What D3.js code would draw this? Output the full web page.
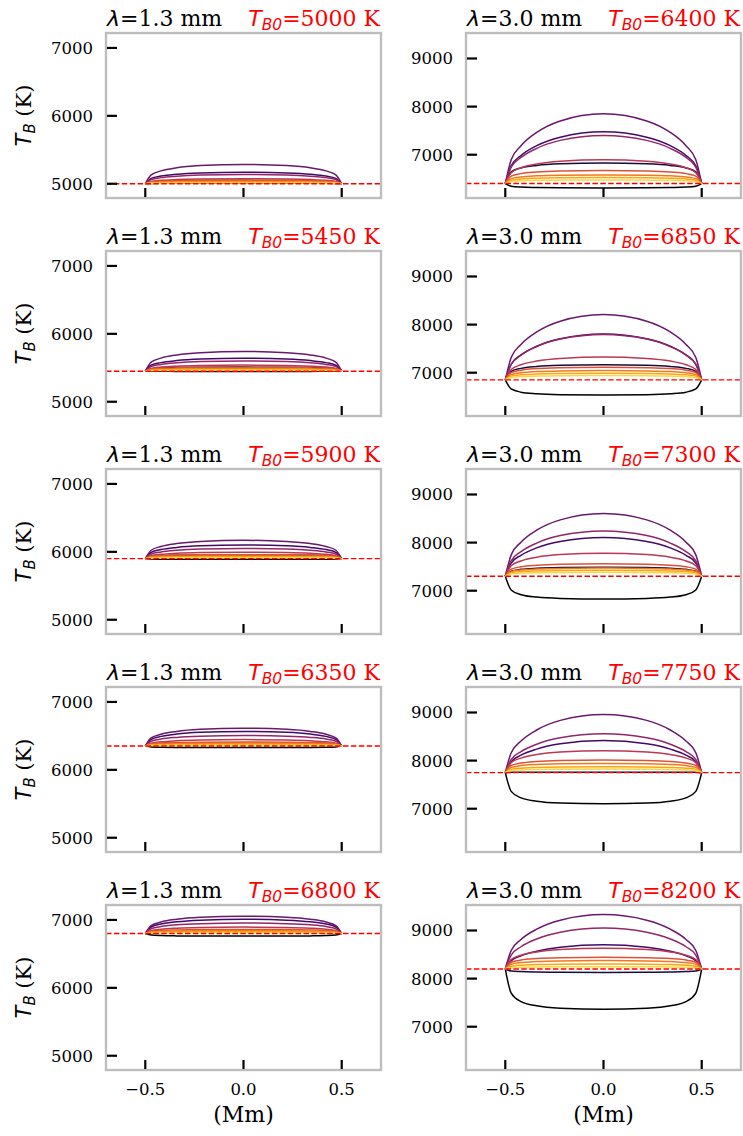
<!DOCTYPE html>
<html>
<head>
<meta charset="utf-8">
<script src="https://cdn.jsdelivr.net/npm/d3@7"></script>
<style>
body{margin:0;background:#fff}
text{font-family:"DejaVu Serif",serif}
.math{font-family:"DejaVu Sans",sans-serif;font-style:italic}
</style>
</head>
<body>
<script>
// half profile positions (Mm); each curve mirrors around 0 and meets T_B0 at +-0.5
var halfX=[0,0.22,0.34,0.42,0.47]
var edgeX=0.5
var tb0Short=[5000,5450,5900,6350,6800]
var tb0Long=[6400,6850,7300,7750,8200]
var yTicksShort=[5000,6000,7000]
var yTicksLong=[7000,8000,9000]
var xTicks=[-0.5,0,0.5]

// T_B - T_B0 (K) at halfX, one row per curve (curve i -> inferno i/10)
// lambda = 1.3 mm
var dT13_5000=[[8,8,7,6,5],[50,48,44,38,29],[170,159,140,113,78],[285,267,235,189,130],[135,127,111,90,62],
  [75,70,62,50,34],[50,48,44,38,29],[35,34,31,27,20],[22,21,20,17,13],[12,12,11,9,7]]
var dT13_5450=[[-3,-3,-3,-2,-2],[60,58,53,46,34],[190,178,156,126,87],[290,272,239,192,133],[150,141,123,99,69],
  [90,84,74,60,41],[55,53,49,42,31],[38,37,34,29,22],[25,24,22,19,14],[12,12,11,9,7]]
var dT13_5900=[[-10,-10,-9,-8,-6],[55,53,49,42,31],[200,188,165,133,91],[270,253,222,179,123],[150,141,123,99,69],
  [95,89,78,63,43],[58,56,52,44,33],[40,39,36,31,23],[26,25,23,20,15],[13,13,12,10,7]]
var dT13_6350=[[-22,-21,-20,-18,-13],[40,39,36,31,23],[215,202,177,143,98],[262,246,216,174,120],[155,145,128,103,71],
  [95,89,78,63,43],[60,58,53,46,34],[40,39,36,31,23],[26,25,23,20,15],[13,13,12,10,7]]
var dT13_6800=[[-38,-37,-35,-31,-23],[20,19,18,15,11],[210,197,173,139,96],[255,239,210,169,117],[155,145,128,103,71],
  [95,89,78,63,43],[60,58,53,46,34],[40,39,36,31,23],[26,25,23,20,15],[13,13,12,10,7]]
// lambda = 3.0 mm
var dT30_6400=[[-90,-88,-82,-73,-54],[425,410,378,325,243],[1075,965,788,584,367],[1450,1302,1063,787,494],[1000,898,733,543,341],
  [495,464,407,328,226],[270,260,240,207,154],[180,174,160,138,103],[125,121,111,96,71],[75,72,67,57,43]]
var dT30_6850=[[-314,-306,-287,-254,-188],[314,303,279,240,179],[955,858,700,519,326],[1360,1221,997,738,464],[945,849,693,513,322],
  [475,446,391,315,217],[265,255,236,203,151],[195,188,173,149,111],[138,133,123,106,79],[90,87,80,69,51]]
var dT30_7300=[[-473,-461,-433,-383,-284],[188,181,167,144,107],[805,723,590,437,275],[1305,1172,957,709,445],[942,846,690,512,321],
  [481,451,396,319,220],[259,250,230,198,148],[170,164,151,130,97],[125,121,111,96,71],[84,81,75,64,48]]
var dT30_7750=[[-648,-632,-593,-525,-389],[10,10,9,8,6],[666,598,488,362,227],[1209,1086,886,656,412],[806,724,591,438,275],
  [456,428,375,302,208],[262,253,233,200,150],[191,184,170,146,109],[122,118,108,93,70],[74,71,66,57,42]]
var dT30_8200=[[-837,-816,-766,-678,-502],[-71,-68,-63,-54,-41],[502,451,368,273,171],[1130,1015,828,614,385],[850,763,623,462,290],
  [431,404,355,286,197],[243,234,216,186,139],[174,168,155,133,99],[104,100,92,80,59],[48,46,43,37,27]]

var profShort=[dT13_5000,dT13_5450,dT13_5900,dT13_6350,dT13_6800]
var profLong=[dT30_6400,dT30_6850,dT30_7300,dT30_7750,dT30_8200]

var W=743,H=1136
var svg=d3.select("body").append("svg").attr("width",W).attr("height",H)

var cols=[
  {left:106,right:381,lam:"1.3",tb0:tb0Short,prof:profShort,dom:[4790,7220],ticks:yTicksShort},
  {left:466,right:741,lam:"3.0",tb0:tb0Long,prof:profLong,dom:[6100,9530],ticks:yTicksLong}
]
var rowTop0=33,rowStep=218,ph=165

cols.forEach(function(c,ci){
  var x=d3.scaleLinear().domain([-0.7,0.7]).range([c.left,c.right])
  for(var r=0;r<5;r++){
    var top=rowTop0+r*rowStep
    var y=d3.scaleLinear().domain(c.dom).range([top+ph,top])
    var g=svg.append("g")
    var tb0=c.tb0[r]

    var line=d3.line()
      .x(function(d){return x(d[0])})
      .y(function(d){return y(d[1])})
      .curve(d3.curveMonotoneX)

    c.prof[r].forEach(function(v,i){
      var pts=[[-edgeX,tb0]]
      for(var k=halfX.length-1;k>0;k--) pts.push([-halfX[k],tb0+v[k]])
      pts.push([0,tb0+v[0]])
      for(var k=1;k<halfX.length;k++) pts.push([halfX[k],tb0+v[k]])
      pts.push([edgeX,tb0])
      g.append("path").attr("d",line(pts))
        .attr("fill","none")
        .attr("stroke",d3.interpolateInferno(i/10))
        .attr("stroke-width",1.5)
    })

    // reference level
    g.append("line")
      .attr("x1",c.left).attr("x2",c.right)
      .attr("y1",y(tb0)).attr("y2",y(tb0))
      .attr("stroke","#ff0000").attr("stroke-width",1.4)
      .attr("stroke-dasharray","5.5,2.4")

    // frame
    g.append("rect").attr("x",c.left).attr("y",top)
      .attr("width",c.right-c.left).attr("height",ph)
      .attr("fill","none").attr("stroke","#bdbdbd").attr("stroke-width",2.4)

    // y ticks (inward)
    c.ticks.forEach(function(t){
      g.append("line").attr("x1",c.left+1).attr("x2",c.left+11)
        .attr("y1",y(t)).attr("y2",y(t))
        .attr("stroke","#000").attr("stroke-width",2.2)
      g.append("text").attr("x",c.left-13).attr("y",y(t)+6)
        .attr("text-anchor","end").style("font-size","16.5px").text(t)
    })
    // x ticks (inward)
    xTicks.forEach(function(t){
      g.append("line").attr("x1",x(t)).attr("x2",x(t))
        .attr("y1",top+ph-1).attr("y2",top+ph-10)
        .attr("stroke","#000").attr("stroke-width",2.2)
      if(r==4){
        g.append("text").attr("x",x(t)).attr("y",top+ph+25)
          .attr("text-anchor","middle").style("font-size","16.5px")
          .text(t==0?"0.0":(t<0?"\u2212":"")+Math.abs(t).toFixed(1))
      }
    })
    if(r==4){
      g.append("text").attr("x",(c.left+c.right)/2).attr("y",top+ph+52)
        .attr("text-anchor","middle").style("font-size","22px").text("(Mm)")
    }

    // titles
    var tl=g.append("text").attr("x",c.left+1).attr("y",top-7).style("font-size","22px")
    tl.append("tspan").attr("class","math").text("\u03bb")
    tl.append("tspan").text("=" + c.lam + " mm")

    var tr=g.append("text").attr("x",c.right-1).attr("y",top-7)
      .attr("text-anchor","end").style("font-size","22px").attr("fill","#ff0000")
    tr.append("tspan").attr("class","math").text("T")
    tr.append("tspan").attr("class","math").attr("dy",4).style("font-size","15.5px").text("B0")
    tr.append("tspan").attr("dy",-4).text("=" + tb0 + " K")

    if(ci==0){
      var yl=g.append("text")
        .attr("transform","translate(31,"+(top+ph/2)+") rotate(-90)")
        .attr("text-anchor","middle").style("font-size","21px")
      yl.append("tspan").attr("class","math").text("T")
      yl.append("tspan").attr("class","math").attr("dy",4).style("font-size","15px").text("B")
      yl.append("tspan").attr("dy",-4).text(" (K)")
    }
  }
})
</script>
</body>
</html>
